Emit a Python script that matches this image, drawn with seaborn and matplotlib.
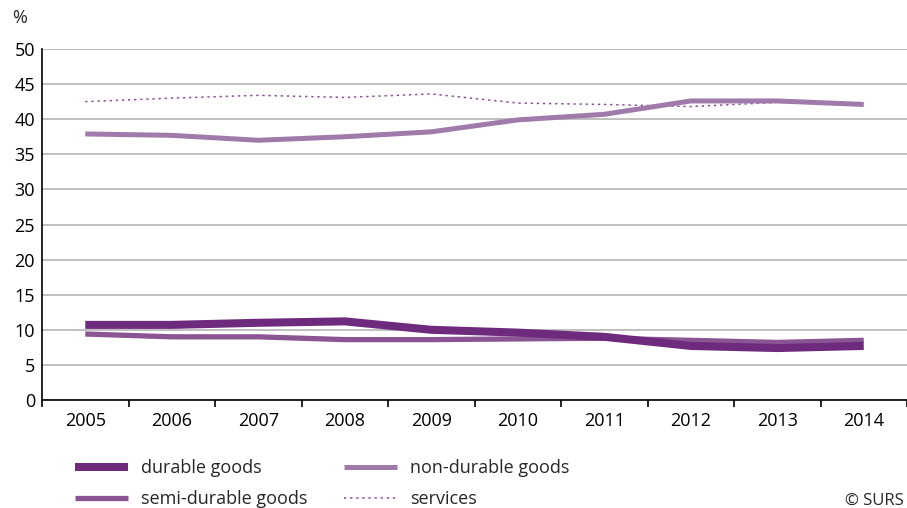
import matplotlib
matplotlib.use("Agg")
import matplotlib.pyplot as plt
import seaborn as sns
import pandas as pd
from matplotlib.ticker import FixedLocator
from matplotlib.lines import Line2D

years = ["2005", "2006", "2007", "2008", "2009", "2010", "2011", "2012", "2013", "2014"]
durable = [10.7, 10.7, 11.0, 11.2, 10.0, 9.6, 9.0, 7.7, 7.4, 7.7]
semi_durable = [9.4, 9.0, 9.0, 8.6, 8.6, 8.7, 8.8, 8.5, 8.2, 8.5]
non_durable = [37.9, 37.7, 37.0, 37.5, 38.2, 39.9, 40.7, 42.6, 42.6, 42.1]
services = [42.5, 43.0, 43.4, 43.1, 43.6, 42.3, 42.1, 41.8, 42.4, 42.0]

series_names = ["durable goods", "semi-durable goods", "non-durable goods", "services"]
colors = ["#6e2a7c", "#8a5592", "#a07aab", "#8c4f97"]
widths = [5.8, 3.8, 3.6, 1.1]
styles = [(0, ()), (0, ()), (0, ()), (0, (1.5, 2.5))]

df = pd.DataFrame({
    "year": years * 4,
    "value": durable + semi_durable + non_durable + services,
    "series": sum([[n] * len(years) for n in series_names], []),
})

sns.set_theme(style="white")
plt.rcParams["font.family"] = ["Open Sans", "DejaVu Sans"]

FS = 13

fig = plt.figure(figsize=(9.07, 5.08), dpi=100)
ax = fig.add_axes([42 / 907, 108 / 508, 865 / 907, 351 / 508])

for i in [3, 2, 1, 0]:
    sub = df[df["series"] == series_names[i]]
    sns.lineplot(data=sub, x="year", y="value", ax=ax, color=colors[i],
                 linewidth=widths[i], linestyle=styles[i],
                 solid_capstyle="butt", dash_capstyle="butt", legend=False)

ax.set_xlim(-0.5, len(years) - 0.5)
ax.set_ylim(0, 50)
ax.set_yticks(range(0, 51, 5))
ax.yaxis.grid(True, color="#b4b4b4", linewidth=1.2)
ax.set_axisbelow(True)
ax.set_xlabel("")
ax.set_ylabel("")
for s in ["top", "right"]:
    ax.spines[s].set_visible(False)
for s in ["left", "bottom"]:
    ax.spines[s].set_color("black")
    ax.spines[s].set_linewidth(1.2)
ax.tick_params(axis="x", which="major", length=0, labelsize=FS, pad=9, colors="black")
ax.tick_params(axis="y", which="major", length=0, labelsize=FS, pad=5, colors="black")
ax.xaxis.set_minor_locator(FixedLocator([i - 0.5 for i in range(len(years) + 1)]))
ax.tick_params(axis="x", which="minor", length=5, width=1.2, color="black", bottom=True)

fig.text(12 / 907, 1 - 18 / 508, "%", fontsize=FS, va="center", ha="left")
fig.text(904 / 907, 1 - 501 / 508, "© SURS", fontsize=12, va="center", ha="right")

leg_handles = [Line2D([0], [0], color=colors[i], linewidth=widths[i], linestyle=styles[i],
                      solid_capstyle="butt", dash_capstyle="butt")
               for i in range(4)]
fig.legend(leg_handles, series_names, loc="upper left", ncol=2,
           bbox_to_anchor=(59 / 907, 1 - 443 / 508), frameon=False, fontsize=FS,
           handlelength=2.94, handletextpad=0.72, columnspacing=2.0, labelspacing=0.7)

fig.savefig("out.png", dpi=100)
